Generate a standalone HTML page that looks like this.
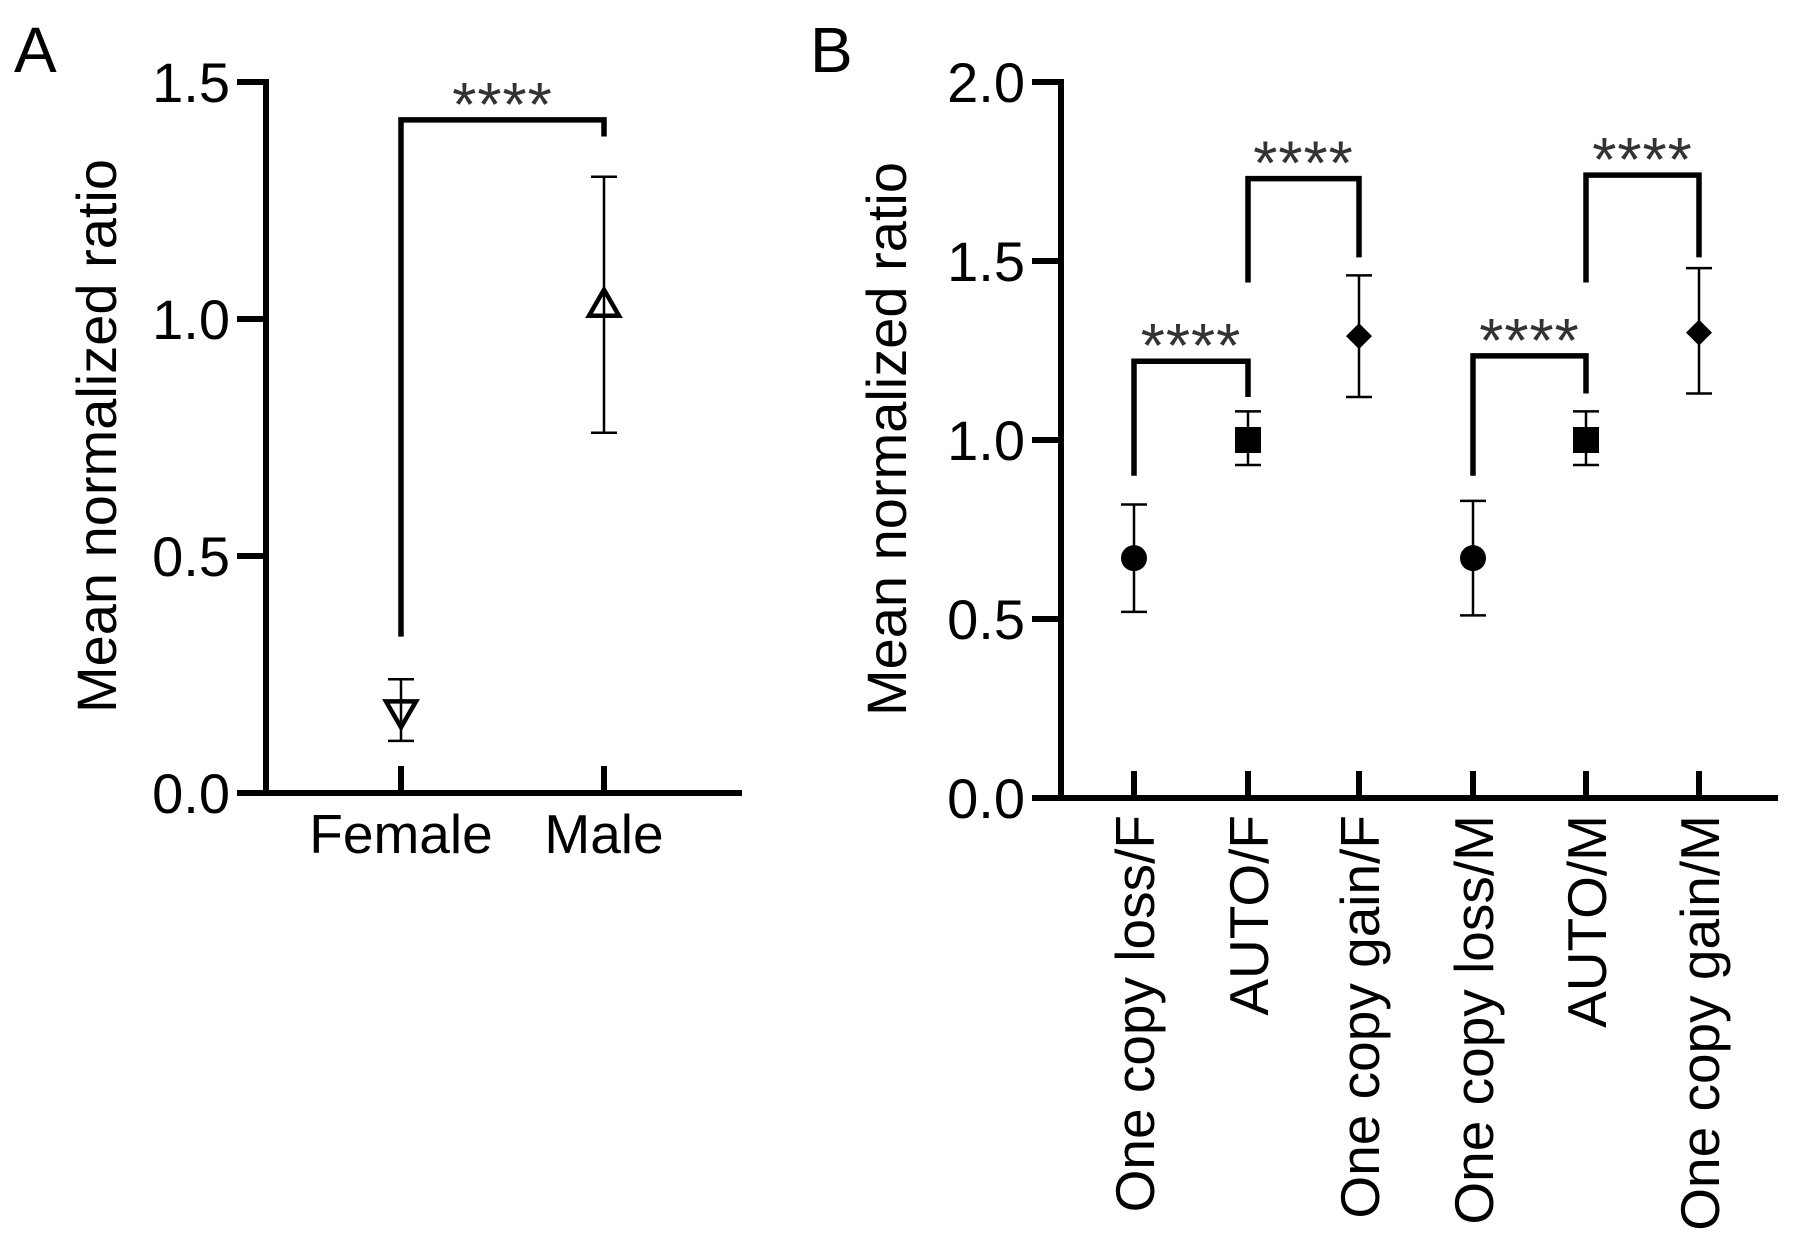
<!DOCTYPE html>
<html><head><meta charset="utf-8"><style>
html,body{margin:0;padding:0;background:#fff;}
svg{display:block;font-family:"Liberation Sans",Arial,sans-serif;}
</style></head><body>
<svg id="fig" width="1795" height="1253" viewBox="0 0 1795 1253" xmlns="http://www.w3.org/2000/svg">
<text x="14" y="72" font-size="64">A</text>
<text x="810" y="72" font-size="64">B</text>
<g id="pa"></g>
<g id="pb"></g>
</svg>
<script>
const catsA = ["Female","Male"];
const meanA = [0.17, 1.03];
const hiA = [0.24, 1.30];
const loA = [0.11, 0.76];
const ticksA = [0.0, 0.5, 1.0, 1.5];
const tickLabelsA = ["0.0","0.5","1.0","1.5"];

const catsB = ["One copy loss/F","AUTO/F","One copy gain/F","One copy loss/M","AUTO/M","One copy gain/M"];
const meanB = [0.67, 1.0, 1.29, 0.67, 1.0, 1.30];
const hiB = [0.82, 1.08, 1.46, 0.83, 1.08, 1.48];
const loB = [0.52, 0.93, 1.12, 0.51, 0.93, 1.13];
const shapesB = ["circle","square","diamond","circle","square","diamond"];
const ticksB = [0.0, 0.5, 1.0, 1.5, 2.0];
const tickLabelsB = ["0.0","0.5","1.0","1.5","2.0"];
// brackets: [fromIdx, toIdx, barY, leftLegY, rightLegY]
const bracketsB = [[0,1,1.22,0.90,1.12],[1,2,1.73,1.44,1.51],[3,4,1.235,0.90,1.13],[4,5,1.74,1.44,1.51]];
const bracketsA = [[0,1,1.42,0.33,1.385]];

const NS="http://www.w3.org/2000/svg";
function mk(parent,tag,attrs,name,text){
  const e=document.createElementNS(NS,tag);
  for(const k in attrs) e.setAttribute(k,attrs[k]);
  
  
  if(text!==undefined) e.textContent=text;
  parent.appendChild(e); return e;
}
function drawPanel(g,o){
  const y=v=>o.y0-(v-o.vmin)/(o.vmax-o.vmin)*(o.y0-o.y1);
  const x=i=>o.xs[i];
  mk(g,'line',{x1:o.ax,y1:y(o.vmax)-3,x2:o.ax,y2:o.y0+3,stroke:'#000','stroke-width':6},'y-axis-line');
  mk(g,'line',{x1:o.ax-3,y1:o.y0,x2:o.axEnd,y2:o.y0,stroke:'#000','stroke-width':6},'x-axis-line');
  o.ticks.forEach((t,i)=>{
    mk(g,'line',{x1:o.ax-29,y1:y(t),x2:o.ax,y2:y(t),stroke:'#000','stroke-width':6},'y-tick');
    mk(g,'text',{x:o.ax-36,y:y(t)+20,'font-size':56,'text-anchor':'end'},'y-tick-label',o.labels[i]);
  });
  mk(g,'text',{x:0,y:0,'font-size':56,'text-anchor':'middle',transform:`translate(${o.tx},${o.ty}) rotate(-90)`},'y-axis-title','Mean normalized ratio');
  o.cats.forEach((c,i)=>{
    mk(g,'line',{x1:x(i),y1:o.y0,x2:x(i),y2:o.y0-27,stroke:'#000','stroke-width':6},'x-tick');
    if(o.rot){
      mk(g,'text',{x:0,y:0,'font-size':55,'text-anchor':'end',transform:`translate(${x(i)+20},${o.y0+17}) rotate(-90)`},'x-tick-label',c);
    } else {
      mk(g,'text',{x:x(i),y:o.y0+60,'font-size':55,'text-anchor':'middle'},'x-tick-label',c);
    }
    const cx=x(i), cy=y(o.mean[i]);
    mk(g,'line',{x1:cx,y1:y(o.hi[i]),x2:cx,y2:y(o.lo[i]),stroke:'#000','stroke-width':2.5},'error-bar');
    mk(g,'line',{x1:cx-13,y1:y(o.hi[i]),x2:cx+13,y2:y(o.hi[i]),stroke:'#000','stroke-width':2.5},'error-cap-top');
    mk(g,'line',{x1:cx-13,y1:y(o.lo[i]),x2:cx+13,y2:y(o.lo[i]),stroke:'#000','stroke-width':2.5},'error-cap-bottom');
    const s=o.shapes[i];
    if(s==='circle') mk(g,'circle',{cx:cx,cy:cy,r:13,fill:'#000'},'point-'+c);
    else if(s==='square') mk(g,'rect',{x:cx-13,y:cy-13,width:26,height:26,fill:'#000'},'point-'+c);
    else if(s==='diamond') mk(g,'polygon',{points:`${cx},${cy-13} ${cx+13},${cy} ${cx},${cy+13} ${cx-13},${cy}`,fill:'#000'},'point-'+c);
    else if(s==='tri-up') mk(g,'polygon',{points:`${cx},${cy-15} ${cx+15},${cy+11} ${cx-15},${cy+11}`,fill:'none',stroke:'#000','stroke-width':4.5},'point-'+c);
    else if(s==='tri-down') mk(g,'polygon',{points:`${cx-15},${cy-11} ${cx+15},${cy-11} ${cx},${cy+15}`,fill:'none',stroke:'#000','stroke-width':4.5},'point-'+c);
  });
  o.brackets.forEach(b=>{
    const xa=x(b[0]), xb=x(b[1]), yb=y(b[2]);
    mk(g,'polyline',{points:`${xa},${y(b[3])} ${xa},${yb} ${xb},${yb} ${xb},${y(b[4])}`,fill:'none',stroke:'#000','stroke-width':5.5},'significance-bracket');
    mk(g,'text',{x:(xa+xb)/2,y:yb+6,'font-size':62,'text-anchor':'middle','letter-spacing':1,fill:'#333'},'significance-stars','****');
  });
}
drawPanel(document.getElementById('pa'),{ax:266,axEnd:742,y0:793,y1:82,vmin:0,vmax:1.5,ticks:ticksA,labels:tickLabelsA,
  xs:[401,604],cats:catsA,mean:meanA,hi:hiA,lo:loA,shapes:["tri-down","tri-up"],brackets:bracketsA,tx:116,ty:436,rot:false});
drawPanel(document.getElementById('pb'),{ax:1061,axEnd:1778,y0:798,y1:82,vmin:0,vmax:2.0,ticks:ticksB,labels:tickLabelsB,
  xs:[1134,1248,1359,1473,1586,1699],cats:catsB,mean:meanB,hi:hiB,lo:loB,shapes:shapesB,brackets:bracketsB,tx:906,ty:439,rot:true});
</script>
</body></html>
